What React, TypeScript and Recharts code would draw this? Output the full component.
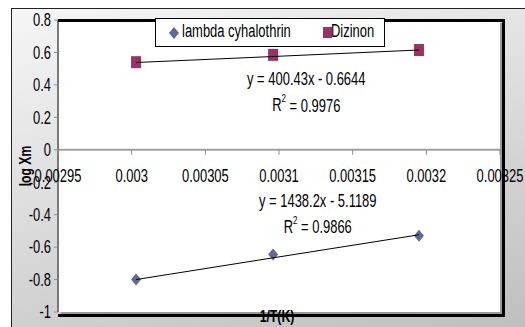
import React from "react";
import {
  ScatterChart,
  Scatter,
  XAxis,
  YAxis,
  CartesianGrid,
  ReferenceLine,
  ReferenceDot,
} from "recharts";

// ─── Data ─────────────────────────────────────────────────────────────────────

const xTicks = [0.00295, 0.003, 0.00305, 0.0031, 0.00315, 0.0032, 0.00325];
const xTickLabels = ["0.00295", "0.003", "0.00305", "0.0031", "0.00315", "0.0032", "0.00325"];
const yTicks = [-1, -0.8, -0.6, -0.4, -0.2, 0, 0.2, 0.4, 0.6, 0.8];

const invT = [0.003003, 0.003096, 0.003195];
const lambdaLogXm = [-0.8, -0.645, -0.53];
const dizinonLogXm = [0.54, 0.585, 0.615];
const lambdaTrend = [-0.8, -0.666, -0.524];
const dizinonTrend = [0.538, 0.575, 0.615];

const seriesNames = ["lambda cyhalothrin", "Dizinon"];
const equations = ["y = 400.43x - 0.6644", "y = 1438.2x - 5.1189"];
const rSquared = ["0.9976", "0.9866"];

const X_DOMAIN: [number, number] = [0.00295, 0.00325];
const Y_DOMAIN: [number, number] = [-1, 0.8];

const LAMBDA = "#666699";
const DIZINON = "#993366";
const FONT = "'Liberation Sans', Arial, sans-serif";
const FS = 18;
const SX = 0.72; // narrow look of the original

// chart box
const W = 525;
const H = 327;
const MARGIN = { top: 20, right: 25, bottom: 15, left: 8 };
const Y_AXIS_W = 50;

const toPoints = (ys: number[]) => invT.map((x, i) => ({ x, y: ys[i] }));

// equation labels, placed in data coordinates
const eqAnchors = [
  { x: 0.0031185, eqY: 0.438, rY: 0.278 },
  { x: 0.0031263, eqY: -0.313, rY: -0.473 },
];

// ─── Text helper ──────────────────────────────────────────────────────────────

function NarrowText({
  x,
  y,
  anchor = "middle",
  size = FS,
  weight = "normal",
  rotate = 0,
  children,
}: {
  x: number;
  y: number;
  anchor?: "start" | "middle" | "end";
  size?: number;
  weight?: string;
  rotate?: number;
  children: React.ReactNode;
}) {
  return (
    <text
      transform={`translate(${x},${y}) rotate(${rotate}) scale(${SX},1)`}
      textAnchor={anchor}
      dominantBaseline="central"
      fontSize={size}
      fontWeight={weight}
      fontFamily={FONT}
      fill="#000"
    >
      {children}
    </text>
  );
}

// ─── Shapes ───────────────────────────────────────────────────────────────────

function Diamond({ cx, cy }: { cx?: number; cy?: number }) {
  if (cx == null || cy == null) return null;
  return (
    <polygon
      points={`${cx},${cy - 6} ${cx + 5},${cy} ${cx},${cy + 6} ${cx - 5},${cy}`}
      fill={LAMBDA}
    />
  );
}

function Square({ cx, cy }: { cx?: number; cy?: number }) {
  if (cx == null || cy == null) return null;
  return <rect x={cx - 5} y={cy - 6} width={10} height={12} fill={DIZINON} />;
}

const NoDot = () => <g />;

function YTick(props: any) {
  const { x, y, payload } = props;
  return (
    <NarrowText x={x - 1} y={y} anchor="end">
      {String(payload.value)}
    </NarrowText>
  );
}

// ─── Chart ────────────────────────────────────────────────────────────────────

export default function App() {
  const plotLeft = MARGIN.left + Y_AXIS_W;
  const plotW = W - plotLeft - MARGIN.right;
  const plotH = H - MARGIN.top - MARGIN.bottom;

  return (
    <div
      style={{
        position: "absolute",
        left: 0,
        top: 0,
        width: W,
        height: H,
        overflow: "hidden",
        background: "#fff",
        fontFamily: FONT,
      }}
    >
      {/* outer chart frame */}
      <div
        style={{
          position: "absolute",
          left: 11,
          top: 8,
          width: 530,
          height: 330,
          border: "1.5px solid #222",
          background: "linear-gradient(165deg, #f6f6f6 0%, #bdbdbd 100%)",
        }}
      />

      {/* plot-area shadow */}
      <div
        style={{
          position: "absolute",
          left: plotLeft + 3,
          top: MARGIN.top + 3,
          width: plotW,
          height: plotH,
          background: "#9a9a9a",
        }}
      />

      <div style={{ position: "absolute", left: 0, top: 0 }}>
        <ScatterChart width={W} height={H} margin={MARGIN}>
          <CartesianGrid fill="#ffffff" horizontal={false} vertical={false} />
          <XAxis type="number" dataKey="x" domain={X_DOMAIN} ticks={xTicks} hide />
          <YAxis
            type="number"
            dataKey="y"
            width={Y_AXIS_W}
            domain={Y_DOMAIN}
            ticks={yTicks}
            interval={0}
            tick={<YTick />}
            tickSize={4}
            tickMargin={2}
            axisLine={{ stroke: "#7a7a7a", strokeWidth: 2 }}
            tickLine={{ stroke: "#8c8c8c" }}
            label={({ viewBox }: any) => (
              <NarrowText
                x={viewBox.x + 17}
                y={viewBox.y + viewBox.height / 2}
                rotate={-90}
                size={17}
                weight="bold"
              >
                log Xm
              </NarrowText>
            )}
          />

          {/* x axis crossing at y = 0 */}
          <ReferenceLine y={0} stroke="#a0a0a0" strokeWidth={2} />
          {xTicks.map((t, i) => (
            <ReferenceDot
              key={t}
              x={t}
              y={0}
              r={0}
              ifOverflow="visible"
              shape={(p: any) => (
                <g>
                  <line x1={p.cx} y1={p.cy} x2={p.cx} y2={p.cy + 5} stroke="#8c8c8c" />
                  <NarrowText x={p.cx} y={p.cy + 26}>
                    {xTickLabels[i]}
                  </NarrowText>
                </g>
              )}
            />
          ))}

          <Scatter
            name={seriesNames[0]}
            data={toPoints(lambdaLogXm)}
            shape={<Diamond />}
            isAnimationActive={false}
          />
          <Scatter
            name={seriesNames[1]}
            data={toPoints(dizinonLogXm)}
            shape={<Square />}
            isAnimationActive={false}
          />

          {/* linear trendlines */}
          <Scatter
            data={toPoints(lambdaTrend)}
            line={{ stroke: "#000", strokeWidth: 1 }}
            shape={<NoDot />}
            isAnimationActive={false}
          />
          <Scatter
            data={toPoints(dizinonTrend)}
            line={{ stroke: "#000", strokeWidth: 1 }}
            shape={<NoDot />}
            isAnimationActive={false}
          />

          {/* trendline equations */}
          {eqAnchors.map((a, i) => (
            <ReferenceDot
              key={`eq${i}`}
              x={a.x}
              y={a.eqY}
              r={0}
              shape={(p: any) => (
                <NarrowText x={p.cx} y={p.cy}>
                  {equations[i]}
                </NarrowText>
              )}
            />
          ))}
          {eqAnchors.map((a, i) => (
            <ReferenceDot
              key={`r2${i}`}
              x={a.x}
              y={a.rY}
              r={0}
              shape={(p: any) => (
                <NarrowText x={p.cx} y={p.cy}>
                  R<tspan dy={-7} fontSize={11}>2</tspan>
                  <tspan dy={7}>{` = ${rSquared[i]}`}</tspan>
                </NarrowText>
              )}
            />
          ))}
        </ScatterChart>
      </div>

      {/* plot-area border (top, right, bottom) */}
      <div
        style={{
          position: "absolute",
          left: plotLeft,
          top: MARGIN.top - 1.5,
          width: plotW + 1.5,
          height: plotH,
          borderTop: "3px solid #000",
          borderRight: "3px solid #000",
          borderBottom: "3px solid #000",
          pointerEvents: "none",
        }}
      />

      {/* legend */}
      <div
        style={{
          position: "absolute",
          left: 155,
          top: 18,
          width: 228,
          height: 27,
          border: "1.5px solid #000",
          background: "#fff",
          color: "#000",
          fontSize: FS,
          whiteSpace: "nowrap",
        }}
      >
        <svg width={10} height={12} style={{ position: "absolute", left: 13, top: 8 }}>
          <polygon points="5,0 10,6 5,12 0,6" fill={LAMBDA} />
        </svg>
        <span
          style={{
            position: "absolute",
            left: 26,
            top: 2,
            transform: `scaleX(${SX})`,
            transformOrigin: "left center",
          }}
        >
          {seriesNames[0]}
        </span>
        <svg width={9} height={11} style={{ position: "absolute", left: 167, top: 8 }}>
          <rect width={9} height={11} fill={DIZINON} />
        </svg>
        <span
          style={{
            position: "absolute",
            left: 175,
            top: 2,
            transform: `scaleX(${SX})`,
            transformOrigin: "left center",
          }}
        >
          {seriesNames[1]}
        </span>
      </div>

      {/* x axis title */}
      <div
        style={{
          position: "absolute",
          left: 227,
          width: 100,
          top: 307,
          textAlign: "center",
          fontSize: 17,
          fontWeight: "bold",
          color: "#000",
          transform: `scaleX(${SX})`,
        }}
      >
        1/T(K)
      </div>
    </div>
  );
}
